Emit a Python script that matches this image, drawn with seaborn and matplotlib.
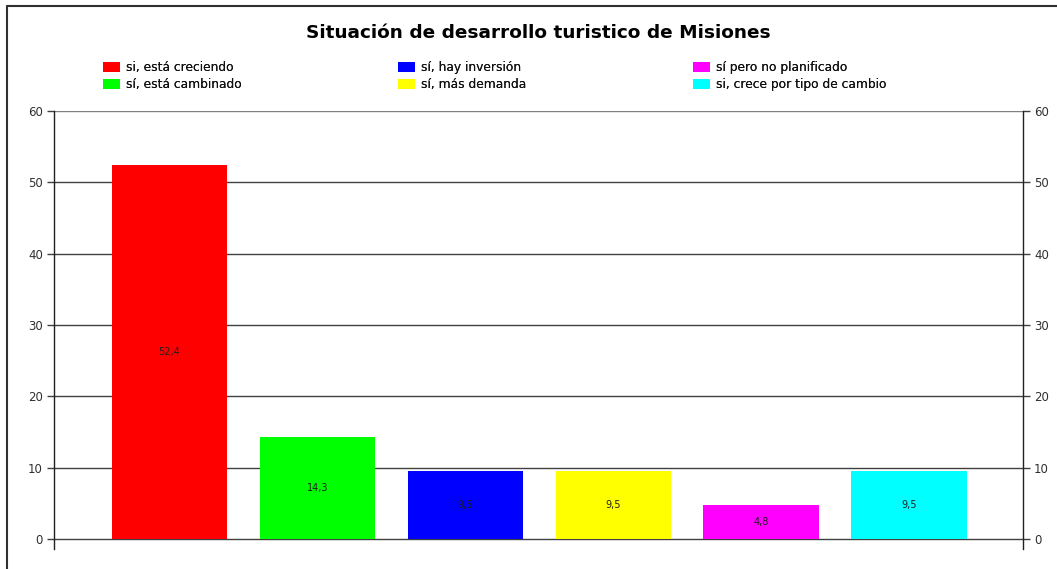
import matplotlib
matplotlib.use("Agg")
import matplotlib.pyplot as plt
import seaborn as sns
from matplotlib.lines import Line2D

# Datos del gráfico
categorias = ["si, está creciendo", "sí, está cambinado", "sí, hay inversión",
              "sí, más demanda", "sí pero no planificado", "si, crece por tipo de cambio"]
porcentajes = [52.4, 14.3, 9.5, 9.5, 4.8, 9.5]
colores = ["#ff0000", "#00ff00", "#0000ff", "#ffff00", "#ff00ff", "#00ffff"]
etiquetas = ["52,4", "14,3", "9,5", "9,5", "4,8", "9,5"]

sns.set_style("white")
plt.rcParams['font.family'] = ['DejaVu Sans']
plt.rcParams['text.color'] = '#111111'

fig = plt.figure(figsize=(10.57, 5.69), dpi=100)
ax = fig.add_axes([54/1057, 20/569, (1023-54)/1057, (549-111)/569])

sns.barplot(x=categorias, y=porcentajes, hue=categorias, palette=colores,
            width=0.78, saturation=1, legend=False, linewidth=0, ax=ax)

for cont, lab in zip(ax.containers, etiquetas):
    ax.bar_label(cont, labels=[lab], label_type='center', fontsize=7, color='#202020')

ax.set_xlim(-0.78, 5.77)
ax.set_ylim(-1.4, 60)
ax.set_yticks(range(0, 61, 10))
ax.set_xticks([])
ax.set_xlabel("")
ax.set_ylabel("")
ax.grid(False)
for y in range(0, 61, 10):
    ax.axhline(y, color='#808080' if y == 60 else '#404040', lw=1, zorder=0)

for s in ['top', 'bottom']:
    ax.spines[s].set_visible(False)
for s in ['left', 'right']:
    ax.spines[s].set_color('#202020')
    ax.spines[s].set_linewidth(1)

ax.tick_params(axis='y', left=True, right=True, labelleft=True, labelright=True,
               length=5, width=1, color='#404040', labelsize=8.5, labelcolor='#303030', pad=3)

# Leyenda: una columna por cada grupo de dos colores
handles = [cont[0] for cont in ax.containers]
for i, x0 in enumerate([103, 398, 693]):
    leg = fig.legend(handles[2*i:2*i+2], categorias[2*i:2*i+2], loc='upper left',
                     bbox_to_anchor=(x0/1057, 1 - 61/569), ncol=1, frameon=False,
                     fontsize=8.8, handlelength=1.35, handleheight=0.95,
                     handletextpad=0.55, labelspacing=0.35, borderpad=0, borderaxespad=0)
    fig.add_artist(leg)

fig.suptitle("Situación de desarrollo turistico de Misiones", x=538/1057, y=1 - 33/569,
             va='center', fontsize=13.3, fontweight='bold', color='black')

# Marco
fig.add_artist(Line2D([7/1057, 1], [1 - 6/569, 1 - 6/569], transform=fig.transFigure,
                      color='#303030', lw=1.5))
fig.add_artist(Line2D([7/1057, 7/1057], [0, 1 - 6/569], transform=fig.transFigure,
                      color='#303030', lw=1.5))

fig.savefig("out.png", dpi=100)
